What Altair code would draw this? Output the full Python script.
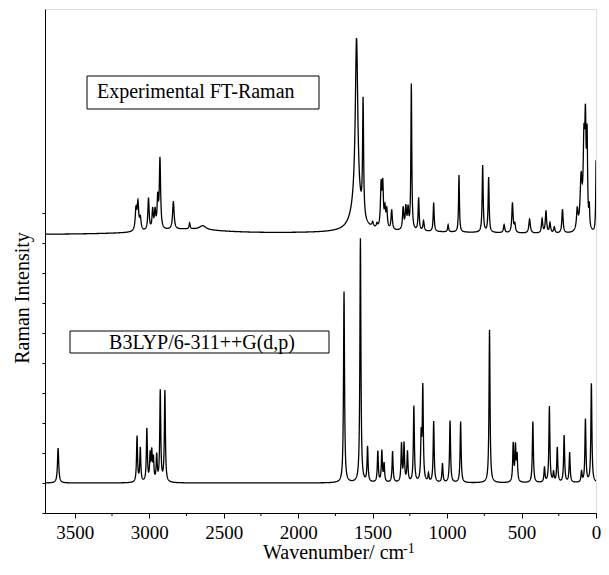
import numpy as np
import pandas as pd
import altair as alt

FONT = "Liberation Serif"

# ---- Experimental FT-Raman: band centres (cm-1), heights, half widths ----
exp_pos = [2750, 1300, 3089, 3076, 3060, 3005, 2977, 2961, 2943, 2928, 2838, 2729, 2641,
           1610, 1608, 1564, 1500, 1471, 1443, 1432, 1417, 1405, 1372, 1295, 1277, 1262,
           1240, 1191, 1158, 1090, 993, 920, 761, 721, 617, 561, 545, 446, 362, 336, 309,
           280, 225, 126, 100, 81, 71, 60, 45, -1]
exp_height = [5, 3, 21, 27, 12, 32, 20, 18, 30, 70, 28, 6, 4,
              25, 168, 116, 5, 4, 42, 42, 18, 18, 20, 22, 22, 20,
              146, 33, 10, 29, 7, 57, 67, 55, 8, 30, 8, 14, 14, 22, 10,
              6, 24, 20, 50, 80, 95, 85, 20, 80]
exp_width = [300, 800, 6, 6, 6, 5, 5, 5, 5, 5, 6, 4, 25,
             40, 10, 4, 6, 5, 5, 5, 5, 5, 5, 5, 5, 5,
             3.5, 4, 5, 4, 4, 3.5, 4, 4, 5, 5, 5, 6, 5, 5, 5,
             5, 5, 6, 8, 6, 5, 4, 3, 3]

# ---- B3LYP/6-311++G(d,p) calculated Raman: band centres, heights, half widths ----
calc_pos = [3612, 3082, 3060, 3016, 2994, 2983, 2972, 2950, 2926, 2895,
            1692, 1582, 1534, 1465, 1438, 1423, 1366, 1306, 1289, 1266,
            1223, 1174, 1163, 1125, 1090, 1031, 980, 909, 715, 556, 541, 530,
            424, 346, 313, 285, 260, 214, 177, 97, 71, 31]
calc_height = [35, 46, 34, 53, 26, 28, 22, 26, 91, 91,
               191, 244, 35, 31, 31, 18, 31, 38, 38, 30,
               76, 44, 94, 8, 61, 19, 62, 61, 153, 38, 35, 26,
               61, 15, 76, 10, 35, 47, 30, 11, 63, 99]
calc_width = [5, 4, 4, 4, 4, 4, 4, 4, 4, 4,
              4, 4, 4, 4, 4, 4, 4, 4, 4, 4,
              4, 4, 4, 4, 4, 4, 4, 4, 4, 4, 4, 4,
              4, 4, 4, 4, 4, 4, 4, 4, 4, 4]

# vertical offsets of the two stacked spectra (intensity units)
exp_offset = 278
calc_offset = 30

major_ticks = [3500, 3000, 2500, 2000, 1500, 1000, 500, 0]
minor_ticks = [3250, 2750, 2250, 1750, 1250, 750, 250]
y_ticks = [0, 30, 60, 90, 120, 150, 180, 210, 240, 270, 300]

labels = ["Experimental FT-Raman", "B3LYP/6-311++G(d,p)"]


def spectrum(pos, height, width, offset, grid):
    y = np.full(grid.shape, float(offset))
    for p, h, w in zip(pos, height, width):
        y += h * w * w / ((grid - p) ** 2 + w * w)
    return y


grid = np.arange(0, 3701, 1.0)
df = pd.concat([
    pd.DataFrame({"wn": grid, "y": np.round(spectrum(exp_pos, exp_height, exp_width, exp_offset, grid), 2),
                  "series": "exp"}),
    pd.DataFrame({"wn": grid, "y": np.round(spectrum(calc_pos, calc_height, calc_width, calc_offset, grid), 2),
                  "series": "calc"}),
])

x_scale = alt.Scale(domain=[3700, 0], nice=False, zero=False)
y_scale = alt.Scale(domain=[0, 504], nice=False, zero=False)

lines = alt.Chart(df).mark_line(color="black", strokeWidth=1.3, clip=True).encode(
    x=alt.X("wn:Q", scale=x_scale,
            axis=alt.Axis(values=major_ticks, title=None, format="d", labelFont=FONT,
                          labelFontSize=19, labelColor="black", tickSize=5, tickColor="black",
                          domainColor="black", labelPadding=5, grid=False, labelFlush=False)),
    y=alt.Y("y:Q", scale=y_scale,
            axis=alt.Axis(values=y_ticks, labels=False, title=None, tickSize=3, tickColor="black",
                          domainColor="black", grid=False)),
    detail="series:N",
)

minor = alt.Chart(pd.DataFrame({"wn": minor_ticks})).mark_rule(color="black", strokeWidth=1).encode(
    x=alt.X("wn:Q", scale=x_scale),
    y=alt.value(504),
    y2=alt.value(507),
)

box1 = alt.Chart(pd.DataFrame({"t": [labels[0]]})).mark_rect(
    fill="white", stroke="black", strokeWidth=1).encode(
    x=alt.value(42), x2=alt.value(274), y=alt.value(67), y2=alt.value(100))
text1 = alt.Chart(pd.DataFrame({"t": [labels[0]]})).mark_text(
    font=FONT, fontSize=20, align="left", baseline="alphabetic", color="black").encode(
    x=alt.value(52), y=alt.value(89), text="t:N")

box2 = alt.Chart(pd.DataFrame({"t": [labels[1]]})).mark_rect(
    fill="white", stroke="black", strokeWidth=1).encode(
    x=alt.value(25), x2=alt.value(284), y=alt.value(322), y2=alt.value(344))
text2 = alt.Chart(pd.DataFrame({"t": [labels[1]]})).mark_text(
    font=FONT, fontSize=20, align="center", baseline="alphabetic", color="black").encode(
    x=alt.value(157), y=alt.value(340), text="t:N")

ytitle = alt.Chart(pd.DataFrame({"t": ["Raman Intensity"]})).mark_text(
    font=FONT, fontSize=20, align="center", baseline="alphabetic", angle=270, color="black").encode(
    x=alt.value(-16), y=alt.value(289), text="t:N")

xtitle = alt.Chart(pd.DataFrame({"t": ["Wavenumber/ cm"]})).mark_text(
    font=FONT, fontSize=20, align="left", baseline="alphabetic", color="black").encode(
    x=alt.value(218), y=alt.value(550), text="t:N")
xsup = alt.Chart(pd.DataFrame({"t": ["-1"]})).mark_text(
    font=FONT, fontSize=14, align="left", baseline="alphabetic", color="black").encode(
    x=alt.value(358), y=alt.value(544), text="t:N")

chart = alt.layer(lines, minor, box1, text1, box2, text2, ytitle, xtitle, xsup).properties(
    width=551, height=504,
    autosize=alt.AutoSizeParams(type="none"),
    padding={"left": 37, "top": 1, "right": 5, "bottom": 49},
).configure_view(stroke=None).configure(background="white")

chart.save("out.html", embed_options={"renderer": "svg", "actions": False})
